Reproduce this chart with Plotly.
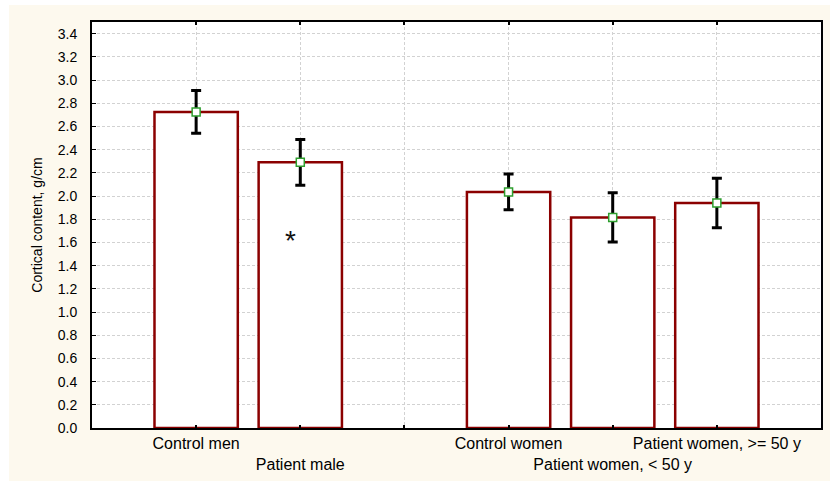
import plotly.graph_objects as go

# Group means and standard errors of cortical content (g/cm)
groups = ["Control men", "Patient male", "Control women",
          "Patient women, < 50 y", "Patient women, >= 50 y"]
means = [2.725, 2.29, 2.035, 1.815, 1.94]
errors = [0.185, 0.198, 0.154, 0.212, 0.213]
y_ticks = [0.0, 0.2, 0.4, 0.6, 0.8, 1.0, 1.2, 1.4, 1.6, 1.8,
           2.0, 2.2, 2.4, 2.6, 2.8, 3.0, 3.2, 3.4]
marked_group = "Patient male"   # significant difference vs. controls

# an empty slot separates the men from the women
gap = " "
axis_order = groups[:2] + [gap] + groups[2:]
# alternate labels between two rows so the long names do not collide
staggered = {name: (name if i % 2 == 0 else "<br>" + name)
             for i, name in enumerate(groups)}
tick_text = [staggered.get(name, "") for name in axis_order]

FONT = "Liberation Sans, Arial, sans-serif"
BAR_EDGE = "#8b0000"

fig = go.Figure()
fig.add_trace(go.Bar(
    x=groups, y=means, width=0.8,
    marker=dict(color="white", line=dict(color=BAR_EDGE, width=2.5)),
    hoverinfo="skip", showlegend=False,
))
fig.add_trace(go.Scatter(
    x=groups, y=means, mode="markers",
    marker=dict(symbol="square", size=8, color="white",
                line=dict(color="#2e9e2e", width=1.5)),
    error_y=dict(type="data", array=errors, color="black",
                 thickness=3, width=5),
    showlegend=False,
))

fig.add_annotation(
    x=marked_group, y=1.62, text="*", showarrow=False, xshift=-10,
    font=dict(family=FONT, size=28, color="#111111"),
)

W, H = 830, 481
L, R, T, B = 92, 9, 22, 53
pw, ph = W - L - R, H - T - B
# white strips outside the cream panel (left and top edges)
fig.add_shape(type="rect", xref="paper", yref="paper", layer="below",
              x0=-L / pw - 0.05, x1=(9 - L) / pw, y0=-B / ph - 0.05, y1=1 + T / ph + 0.05,
              fillcolor="white", line=dict(width=0))
fig.add_shape(type="rect", xref="paper", yref="paper", layer="below",
              x0=-L / pw - 0.05, x1=1 + R / pw + 0.05, y0=1 + (T - 5) / ph, y1=1 + T / ph + 0.05,
              fillcolor="white", line=dict(width=0))

grid = dict(showgrid=True, gridcolor="#d2d2d2", gridwidth=1, griddash="3px,2px")

fig.update_layout(
    width=W, height=H,
    margin=dict(l=L, r=R, t=T, b=B, pad=0, autoexpand=False),
    paper_bgcolor="#fdf9ee", plot_bgcolor="white",
    font=dict(family=FONT, color="black"),
    bargap=0.2,
    xaxis=dict(
        type="category", categoryorder="array", categoryarray=axis_order,
        tickvals=axis_order, ticktext=tick_text, tickangle=0,
        range=[-1, 6], tickfont=dict(size=16, color="black"),
        showline=True, linecolor="black", linewidth=2, mirror="ticks",
        ticks="inside", ticklen=3, tickcolor="black", tickwidth=1.5,
        automargin=False, fixedrange=True, **grid,
    ),
    yaxis=dict(
        range=[0, 3.5], tickvals=y_ticks,
        ticktext=[f"{v:.1f}" for v in y_ticks],
        tickfont=dict(size=14, color="black"),
        showline=True, linecolor="black", linewidth=2, mirror=True,
        ticks="inside", ticklen=4, tickcolor="black", tickwidth=1,
        ticklabelstandoff=10, zeroline=False, fixedrange=True,
        automargin=False,
        title=dict(text="Cortical content, g/cm", standoff=12,
                   font=dict(size=14, color="black")),
        **grid,
    ),
)

fig.write_html("out.html")
